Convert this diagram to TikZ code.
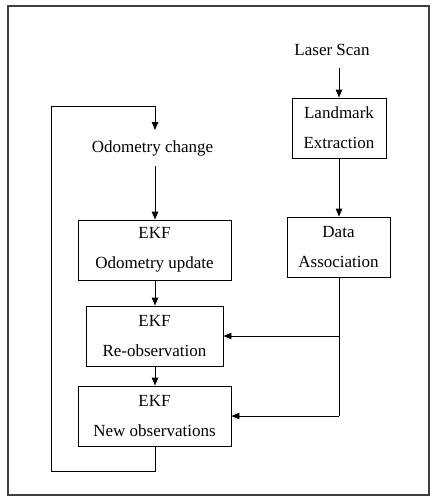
\documentclass[tikz,border=0pt]{standalone}
\usepackage{fontspec}
\setmainfont{Liberation Serif}
\usetikzlibrary{arrows.meta,calc}
\begin{document}
\begin{tikzpicture}[x=1pt,y=-1pt,
  every node/.style={font=\fontsize{17}{30}\selectfont, align=center},
  box/.style={draw, line width=0.9pt, minimum height=60pt, inner sep=0pt},
  arr/.style={-{Triangle[length=8pt,width=6.5pt]}, line width=0.9pt},
  ln/.style={line width=0.9pt}]
\useasboundingbox (0,0) rectangle (441,504);
\draw[line width=1.1pt, draw=black!75] (8,6) rectangle (429,495);
\node (LS) at (332,50) {Laser Scan};
\node[box, minimum width=94pt] (LM) at (339,128) {Landmark\\Extraction};
\node[box, minimum width=103pt] (DA) at (338.5,247) {Data\\Association};
\node (OC) at (152.5,148) {Odometry change};
\node[box, minimum width=153pt] (OU) at (154.5,250) {EKF\\Odometry update};
\node[box, minimum width=137pt] (RO) at (154.5,336) {EKF\\Re-observation};
\node[box, minimum width=153pt] (NO) at (154.5,416) {EKF\\New observations};
\coordinate (j1) at (339,336);
\coordinate (j2) at (339,416);
\coordinate (lb) at (155,471);
\coordinate (lc) at (51,471);
\coordinate (ld) at (51,106);
\coordinate (le) at (155,106);
\coordinate (lt) at (155,130);
\coordinate (ls) at (339,68);
\coordinate (os) at (155,166);
\draw[arr] (ls) -- (ls |- LM.north);
\draw[arr] (LM.south -| ls) -- (DA.north -| ls);
\draw[ln] (DA.south -| ls) -- (j2);
\draw[arr] (j1) -- (RO.east);
\draw[arr] (j2) -- (NO.east);
\draw[arr] (os) -- (os |- OU.north);
\draw[arr] (OU.south -| os) -- (RO.north -| os);
\draw[arr] (RO.south -| os) -- (NO.north -| os);
\draw[arr] (NO.south -| lb) -- (lb) -- (lc) -- (ld) -- (le) -- (lt);
\end{tikzpicture}
\end{document}
